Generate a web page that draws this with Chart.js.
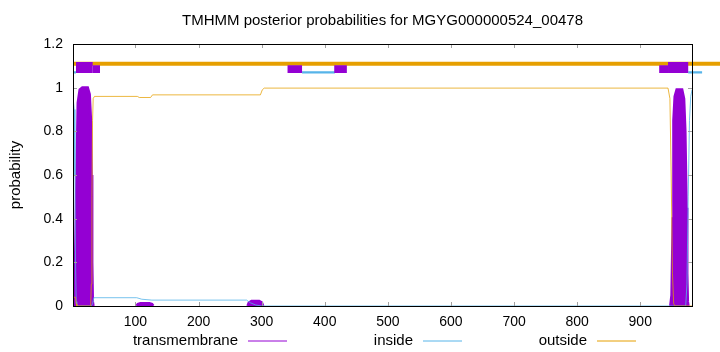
<!DOCTYPE html>
<html>
<head>
<meta charset="utf-8">
<script src="https://cdn.jsdelivr.net/npm/chart.js@4.4.1/dist/chart.umd.min.js"></script>
<style>
  html, body { margin: 0; padding: 0; background: #fff; }
  canvas { display: block; }
</style>
</head>
<body>
<canvas id="tmhmm" width="720" height="352"></canvas>
<script>
// TMHMM posterior probabilities chart

const seqStart = 1;
const seqEnd = 982;
const xTicks = [100, 200, 300, 400, 500, 600, 700, 800, 900];
const yTicks = [0, 0.2, 0.4, 0.6, 0.8, 1, 1.2];

// curves: [position, probability], null breaks the line
const tmCurve = [
  [4, 0], [5, 0.25], [7, 0.6], [9, 0.93], [12, 0.99], [16, 1.0], [24, 1.0], [27, 0.97],
  [29, 0.85], [30, 0.6], [31, 0.2], [32, 0.02], [33, 0],
  [60, null],
  [102, 0], [104, 0.008], [108, 0.012], [122, 0.012], [126, 0.008], [128, 0],
  [200, null],
  [278, 0], [280, 0.015], [284, 0.022], [296, 0.022], [300, 0.015], [302, 0],
  [600, null],
  [948, 0], [950, 0.05], [952, 0.4], [953, 0.85], [955, 0.96], [958, 0.99], [966, 0.99],
  [969, 0.95], [971, 0.8], [973, 0.45], [974, 0.15], [975, 0.02], [976, 0]
];
const insideCurve = [
  [1, 0.96], [3, 0.9], [4, 0.6], [5, 0.2], [6, 0.02], [7, 0], [30, 0], [32, 0.01],
  [34, 0.038], [102, 0.038], [110, 0.031], [126, 0.027], [276, 0.027], [282, 0.015],
  [290, 0.005], [300, 0], [972, 0], [974, 0.1], [976, 0.5], [978, 0.85], [980, 0.96],
  [982, 0.99]
];
const outsideCurve = [
  [1, 0.04], [5, 0.04], [6, 0.01], [7, 0], [29, 0], [30, 0.1], [31, 0.5], [32, 0.85],
  [33, 0.95], [35, 0.96], [103, 0.96], [106, 0.955], [124, 0.955], [127, 0.967],
  [298, 0.967], [301, 0.99], [304, 0.998], [944, 0.998], [947, 0.95], [949, 0.6],
  [951, 0.15], [953, 0.01], [955, 0], [982, 0]
];

// topology band segments [from, to]
const bandOutside = [[1, 1027]];
const bandInside = [[1, 5.75], [364, 416], [976, 998]];
const bandTM = [[32.2, 43.8], [341, 364], [415, 435], [930, 944], [1003.7, 1027]];
const bandTMTall = [[5.75, 32.2], [944, 976]];

const PURPLE = '#9400D3';
const BLUE = '#56B4E9';
const ORANGE = '#E69F00';
const FONT = '"Liberation Sans", Arial, sans-serif';

function toPoints(list) {
  return list.map(p => ({ x: p[0], y: p[1] }));
}

function segPoints(segs, level) {
  const pts = [];
  segs.forEach(s => {
    pts.push({ x: s[0], y: level }, { x: s[1], y: level }, { x: s[1], y: null });
  });
  return pts;
}

function bandSet(segs, level, color, width, order) {
  return {
    data: segPoints(segs, level),
    borderColor: color,
    borderWidth: width,
    borderCapStyle: 'butt',
    pointRadius: 0,
    fill: false,
    clip: false,
    spanGaps: false,
    order: order
  };
}

// frame, inward ticks, title, axis label and legend
const gnuplotDecor = {
  id: 'gnuplotDecor',
  afterDraw(chart) {
    const ctx = chart.ctx;
    const a = chart.chartArea;
    const xs = chart.scales.x;
    const ys = chart.scales.y;
    ctx.save();

    ctx.strokeStyle = '#a0a0a0';
    ctx.lineWidth = 1;
    ctx.beginPath();
    xTicks.forEach(t => {
      const px = Math.round(xs.getPixelForValue(t)) + 0.5;
      ctx.moveTo(px, a.bottom); ctx.lineTo(px, a.bottom - 4);
      ctx.moveTo(px, a.top); ctx.lineTo(px, a.top + 4);
    });
    yTicks.forEach(t => {
      const py = Math.round(ys.getPixelForValue(t)) + 0.5;
      ctx.moveTo(a.left, py); ctx.lineTo(a.left + 4, py);
      ctx.moveTo(a.right, py); ctx.lineTo(a.right - 4, py);
    });
    ctx.stroke();

    ctx.strokeStyle = '#000';
    ctx.strokeRect(Math.round(a.left) + 0.5, Math.round(a.top) + 0.5,
      Math.round(a.right - a.left), Math.round(a.bottom - a.top));

    ctx.fillStyle = '#000';
    ctx.font = '15px ' + FONT;
    ctx.textAlign = 'center';
    ctx.textBaseline = 'middle';
    ctx.fillText('TMHMM posterior probabilities for MGYG000000524_00478', (a.left + a.right) / 2, 21);

    ctx.save();
    ctx.translate(16, (a.top + a.bottom) / 2);
    ctx.rotate(-Math.PI / 2);
    ctx.fillText('probability', 0, 0);
    ctx.restore();

    const legend = [
      { label: 'transmembrane', textEnd: 238, color: PURPLE },
      { label: 'inside', textEnd: 413, color: BLUE },
      { label: 'outside', textEnd: 587, color: ORANGE }
    ];
    ctx.textAlign = 'right';
    legend.forEach(item => {
      ctx.fillStyle = '#000';
      ctx.fillText(item.label, item.textEnd, 341);
      ctx.strokeStyle = item.color;
      ctx.lineWidth = 1;
      ctx.beginPath();
      ctx.moveTo(item.textEnd + 10, 341);
      ctx.lineTo(item.textEnd + 49, 341);
      ctx.stroke();
    });
    ctx.restore();
  }
};

new Chart(document.getElementById('tmhmm'), {
  type: 'line',
  data: {
    datasets: [
      bandSet(bandTMTall, 1.0927, PURPLE, 11, 0),
      bandSet(bandTM, 1.085, PURPLE, 7.6, 1),
      bandSet(bandInside, 1.07, BLUE, 2.2, 2),
      bandSet(bandOutside, 1.11, ORANGE, 4, 3),
      {
        data: toPoints(outsideCurve),
        borderColor: 'rgba(230,159,0,0.75)',
        borderWidth: 1,
        pointRadius: 0,
        fill: false,
        order: 4
      },
      {
        data: toPoints(insideCurve),
        borderColor: 'rgba(86,180,233,0.8)',
        borderWidth: 1,
        pointRadius: 0,
        fill: false,
        order: 5
      },
      {
        data: toPoints(tmCurve),
        borderColor: PURPLE,
        backgroundColor: PURPLE,
        borderWidth: 3,
        pointRadius: 0,
        fill: 'origin',
        spanGaps: false,
        order: 6
      }
    ]
  },
  options: {
    responsive: false,
    animation: false,
    layout: { padding: { top: 44, right: 28, left: 0, bottom: 0 } },
    plugins: {
      legend: { display: false },
      title: { display: false },
      tooltip: { enabled: false }
    },
    scales: {
      x: {
        type: 'linear',
        min: seqStart,
        max: seqEnd,
        grid: { display: false, drawTicks: false, tickLength: 0 },
        border: { display: false },
        afterBuildTicks(scale) { scale.ticks = xTicks.map(v => ({ value: v })); },
        afterFit(scale) { scale.height = 46; },
        ticks: {
          padding: 8,
          maxRotation: 0,
          color: '#000',
          font: { family: FONT, size: 14 }
        }
      },
      y: {
        min: 0,
        max: 1.2,
        grid: { display: false, drawTicks: false, tickLength: 0 },
        border: { display: false },
        afterBuildTicks(scale) { scale.ticks = yTicks.map(v => ({ value: v })); },
        afterFit(scale) { scale.width = 73; },
        ticks: {
          padding: 10,
          color: '#000',
          font: { family: FONT, size: 14 },
          callback: v => String(+v.toFixed(1))
        }
      }
    }
  },
  plugins: [gnuplotDecor]
});
</script>
</body>
</html>
